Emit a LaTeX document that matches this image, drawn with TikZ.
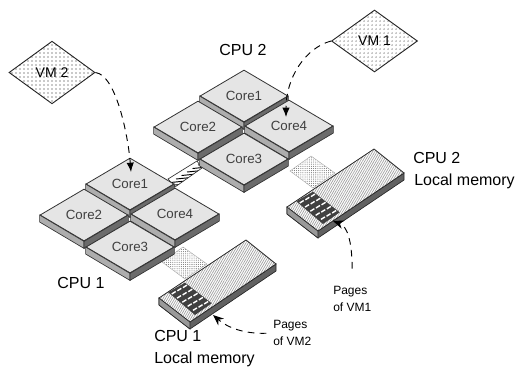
\documentclass[tikz,border=0pt]{standalone}
\usepackage{fontspec}
\setmainfont{Liberation Sans}
\usetikzlibrary{arrows.meta,shapes.geometric,patterns.meta}
\definecolor{tiletop}{gray}{0.9}
\definecolor{sideleft}{gray}{0.68}
\definecolor{sideright}{gray}{0.42}
\tikzset{
	coretile/.style={diamond,draw=black!80,line width=0.6pt,fill=tiletop,aspect=1.69,minimum width=66pt,minimum height=39pt,inner sep=0pt,font=\fontsize{10}{12}\selectfont,text=black!75},
	vmbox/.style={diamond,draw=black!85,line width=0.7pt,aspect=1.36,inner sep=0pt,pattern={Dots[distance=3pt,radius=0.38pt]},pattern color=black!90,font=\fontsize{10.5}{12}\selectfont},
	bigtext/.style={inner sep=0pt,font=\fontsize{12}{14}\selectfont},
	smalltext/.style={inner sep=0pt,align=left,font=\fontsize{9}{13}\selectfont},
	vmarrow/.style={-{Latex[length=7pt,width=5.5pt]},dashed,dash pattern=on 5pt off 4pt,line width=0.7pt},
	pagearrow/.style={-{Stealth[length=8pt,width=6.5pt]},dashed,dash pattern=on 5pt off 4pt,line width=0.7pt},
	memsurface/.style={draw=black!85,line width=0.6pt,pattern={Lines[angle=60,distance=1.5pt,line width=0.5pt]},pattern color=black!38}
}
% core tile with two visible side faces
\newcommand{\coretile}[3]{
	\node[coretile] (#1) at (#2) {#3};
	\draw[line width=0.5pt,draw=black!80,fill=sideleft] (#1.west) -- ++(0,7) -- ([yshift=-5.25pt]#1.south) -- (#1.south) -- cycle;
	\draw[line width=0.5pt,draw=black!80,fill=sideright] (#1.east) -- ++(0,7) -- ([yshift=-5.25pt]#1.south) -- (#1.south) -- cycle;
}
% memory block, #1 is the origin
\newcommand{\memblock}[1]{
	\begin{scope}[shift={(#1)}]
		% link to the cpu
		\draw[draw=black!35,line width=0.3pt,pattern={Dots[distance=1.6pt,radius=0.4pt]},pattern color=black!55] (162,262) -- (183,247) -- (207,264) -- (185,279) -- cycle;
		\draw[black!85,fill=black!62,line width=0.5pt] (159,298) -- (159,305) -- (190,329) -- (276,271) -- (276,264) -- (190,322) -- cycle;
		\fill[black!40] (159,298) -- (159,305) -- (190,329) -- (190,322) -- cycle;
		\draw[black!85,line width=0.5pt] (159,298) -- (159,305) -- (190,329) -- (190,322);
		\fill[white] (159,298) -- (246,240) -- (276,264) -- (190,322) -- cycle;
		\draw[memsurface] (159,298) -- (246,240) -- (276,264) -- (190,322) -- cycle;
		% pages
		\fill[black!75] (168.3,292.3) -- (185,282.7) -- (211.7,303.3) -- (195,315) -- cycle;
		\foreach \r in {0,1,2} {
			\foreach \c in {0,...,4} {
				\draw[white,line width=1.05pt] (173.75+\r*5.6+\c*5.3-2,292.75-\r*3.2+\c*4.1+1.25) -- +(4,-2.5);
			}
		}
	\end{scope}
}

\begin{document}
\begin{tikzpicture}[x=0.75pt,y=-0.75pt]
	\useasboundingbox (0,0) rectangle (517,369);

	% link between the cpus
	\begin{scope}
		\clip (168,179) -- (197,161) -- (202,168) -- (175,187) -- cycle;
		\foreach \s in {0,...,7} {
			\draw[line width=0.7pt] (165+\s*5.5,186-\s*3.5) -- +(30,-3);
		}
	\end{scope}
	\draw[draw=black!80,line width=0.5pt] (168,179) -- (197,161) -- (202,168) -- (175,187) -- cycle;

	\memblock{0,0}
	\memblock{128,-91}

	% CPU 2
	\coretile{CoreOneB}{244,96}{Core1}
	\coretile{CoreTwoB}{198,127}{Core2}
	\coretile{CoreFourB}{289,126}{Core4}
	\coretile{CoreThreeB}{244,159}{Core3}
	% CPU 1
	\coretile{CoreOneA}{130,184}{Core1}
	\coretile{CoreTwoA}{84,215}{Core2}
	\coretile{CoreFourA}{175,214}{Core4}
	\coretile{CoreThreeA}{130,247}{Core3}

	\node[vmbox,minimum width=64.5pt,minimum height=47pt] (VMtwo) at (52,72.5) {VM 2};
	\node[vmbox,minimum width=64.5pt,minimum height=46.5pt] (VMone) at (374.5,41) {VM 1};

	\coordinate (ArrowTwo) at (131,172);
	\coordinate (ArrowOne) at (286,117);
	\draw[vmarrow] (VMtwo.east) .. controls (116,75) and (128,135) .. (ArrowTwo);
	\draw[vmarrow] (VMone.west) .. controls (305,48) and (286,78) .. (ArrowOne);

	\node[bigtext] (CpuTwo) at (243,50) {CPU 2};
	\node[bigtext] (CpuOne) at (81,283) {CPU 1};
	\node[bigtext,anchor=west] (CpuTwoName) at (413,158) {CPU 2};
	\node[bigtext,anchor=west] (MemTwoName) at (414,181) {Local memory};
	\node[bigtext,anchor=west] (CpuOneName) at (154,336) {CPU 1};
	\node[bigtext,anchor=west] (MemOneName) at (154,359) {Local memory};
	\node[smalltext,anchor=west] (PagesOne) at (333,299) {Pages\\of VM1};
	\node[smalltext,anchor=west] (PagesTwo) at (273,333) {Pages\\of VM2};

	\coordinate (TipOne) at (333,221);
	\coordinate (TipTwo) at (213,315);
	\draw[pagearrow,shorten <=13pt] (PagesOne.north) .. controls (352,240) and (347,226) .. (TipOne);
	\draw[pagearrow,shorten <=5pt] (PagesTwo.west) .. controls (245,334) and (228,328) .. (TipTwo);
\end{tikzpicture}
\end{document}
